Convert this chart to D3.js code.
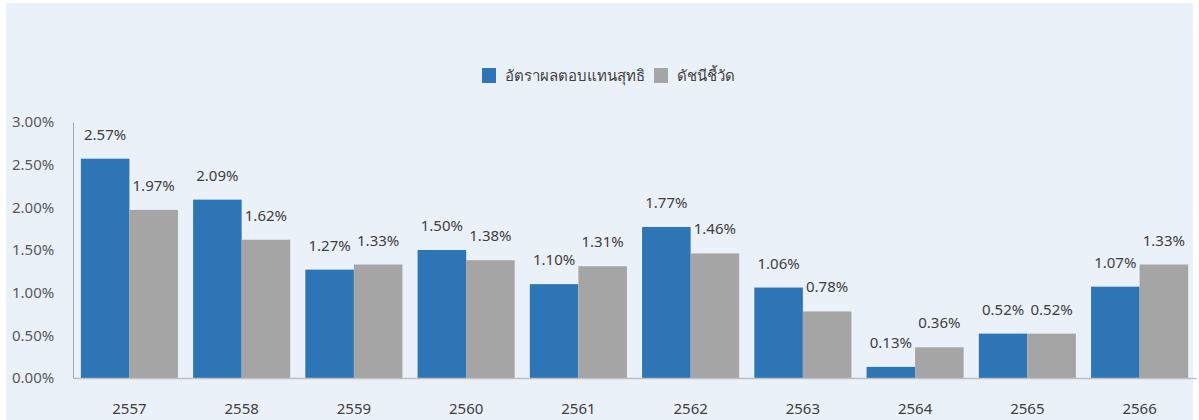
<!DOCTYPE html>
<html>
<head>
<meta charset="utf-8">
<script src="https://cdn.jsdelivr.net/npm/d3@7"></script>
<style>
  body { margin: 0; background: #fff; }
  text { font-family: "Noto Sans", "DejaVu Sans", sans-serif; }
</style>
</head>
<body>
<div id="chart"></div>
<script>
// Dữ liệu
const years = ["2557", "2558", "2559", "2560", "2561", "2562", "2563", "2564", "2565", "2566"];
const netReturn = [2.57, 2.09, 1.27, 1.50, 1.10, 1.77, 1.06, 0.13, 0.52, 1.07];
const benchmark = [1.97, 1.62, 1.33, 1.38, 1.31, 1.46, 0.78, 0.36, 0.52, 1.33];
const seriesNames = ["อัตราผลตอบแทนสุทธิ", "ดัชนีชี้วัด"];
const yTicks = [0, 0.5, 1.0, 1.5, 2.0, 2.5, 3.0];

const fullWidth = 1199, fullHeight = 420;
const colors = ["#2E75B6", "#A5A5A5"];

const svg = d3.select("#chart").append("svg")
    .attr("width", fullWidth)
    .attr("height", fullHeight);

// Nền
svg.append("rect")
    .attr("x", 6).attr("y", 3)
    .attr("width", 1187).attr("height", 417)
    .attr("fill", "#EBF1F9");

const x0 = d3.scaleBand()
    .domain(years)
    .range([73, 1196])
    .paddingInner(0.135)
    .paddingOuter(0.07);

const x1 = d3.scaleBand()
    .domain([0, 1])
    .range([0, x0.bandwidth()]);

const y = d3.scaleLinear()
    .domain([0, 3])
    .range([378, 122]);

// Trục Y
const yAxis = svg.append("g")
    .attr("transform", "translate(73,0)")
    .call(d3.axisLeft(y).tickValues(yTicks).tickSize(0)
        .tickFormat(d => d.toFixed(2) + "%"));
yAxis.select(".domain").attr("stroke", "#A6A6A6");
yAxis.selectAll("text")
    .attr("text-anchor", "start")
    .attr("x", -61)
    .style("font-size", "15px")
    .style("fill", "#595959");

// Cột
const groups = svg.selectAll(".grp")
    .data(years)
    .enter().append("g")
    .attr("transform", d => `translate(${x0(d)},0)`);

const rows = years.map((yr, i) => [netReturn[i], benchmark[i]]);

groups.selectAll("rect")
    .data((d, i) => rows[i])
    .enter().append("rect")
    .attr("x", (d, j) => x1(j))
    .attr("y", d => y(d))
    .attr("width", x1.bandwidth())
    .attr("height", d => y(0) - y(d))
    .attr("fill", (d, j) => colors[j]);

groups.selectAll(".label")
    .data((d, i) => rows[i])
    .enter().append("text")
    .attr("x", (d, j) => x1(j) + x1.bandwidth() / 2)
    .attr("y", d => y(d) - 19)
    .attr("text-anchor", "middle")
    .style("font-size", "15px")
    .style("fill", "#404040")
    .text(d => d.toFixed(2) + "%");

// Trục X
const xAxis = svg.append("g")
    .attr("transform", "translate(0,378)")
    .call(d3.axisBottom(x0).tickSize(0).tickPadding(25));
xAxis.select(".domain").attr("stroke", "#BFBFBF").attr("stroke-width", 1.5);
xAxis.selectAll("text")
    .style("font-size", "15px")
    .style("fill", "#404040");

// Chú thích
const legend = svg.append("g").attr("transform", "translate(482,68)");
const items = [{ x: 0 }, { x: 172 }];
items.forEach((it, i) => {
    legend.append("rect")
        .attr("x", it.x).attr("y", 0)
        .attr("width", 14).attr("height", 15)
        .attr("fill", colors[i]);
    legend.append("text")
        .attr("x", it.x + 23).attr("y", 13)
        .style("font-size", "15px")
        .style("fill", "#404040")
        .text(seriesNames[i]);
});
</script>
</body>
</html>
